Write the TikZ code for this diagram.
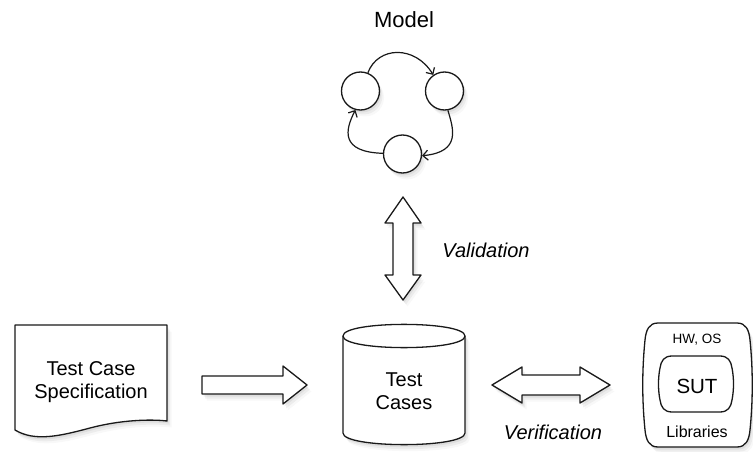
\documentclass[tikz,border=0pt]{standalone}
\usepackage{fontspec}
\setmainfont{Liberation Sans}
\usetikzlibrary{arrows.meta,shadows}
\begin{document}
\begin{tikzpicture}[x=1pt,y=-1pt,
  shp/.style={draw=black!90, line width=1.3pt, fill=white, line join=round},
  shad/.style={drop shadow={opacity=.12,shadow xshift=1.5pt,shadow yshift=-2.5pt},
               drop shadow={opacity=.10,shadow xshift=3pt,shadow yshift=-4.5pt},
               drop shadow={opacity=.06,shadow xshift=4.5pt,shadow yshift=-6.5pt}},
  circ/.style={shp, shad, circle, minimum size=38pt, inner sep=0pt},
  marr/.style={draw=black!90, line width=1.2pt, -{Straight Barb[length=5pt,width=10pt]}},
  lbl/.style={font=\fontsize{20}{23}\selectfont, align=center, inner sep=0pt},
  ilbl/.style={font=\itshape\fontsize{20}{23}\selectfont, inner sep=0pt}]
\useasboundingbox (0,0) rectangle (753,452);

% Model
\node[font=\fontsize{22}{25}\selectfont, inner sep=0pt] (model) at (404,20) {Model};
\node[circ] (m1) at (360.5,91) {};
\node[circ] (m2) at (444.5,91) {};
\node[circ] (m3) at (402.5,154) {};
\draw[marr] (m1.68) .. controls (378,46) and (415,45) .. (m2.125);
\draw[marr] (m2.-80) .. controls (453,128) and (462,152) .. (m3.-5);
\draw[marr] (m3.178) .. controls (340,152) and (345,130) .. (m1.-105);

% Validation double arrow
\draw[shp, shad] (403,197) -- (421,223) -- (413,223) -- (413,275) -- (421,275) -- (403,300)
  -- (385,275) -- (393,275) -- (393,223) -- (385,223) -- cycle;
\node[ilbl] (val) at (486,250) {Validation};

% Test case specification (document)
\draw[shp, shad] (15,325) -- (167,325) -- (167,421)
  .. controls (150,419) and (120,420) .. (90,428)
  .. controls (60,436) and (35,442) .. (15,430) -- cycle;
\node[lbl] (tcs) at (91,382) {Test Case\\Specification};

% arrow spec -> test cases
\draw[shp, shad] (202,376) -- (283,376) -- (283,366) -- (307,385) -- (283,404) -- (283,394)
  -- (202,394) -- cycle;

% Test cases cylinder
\draw[shp, shad] (343,336) -- (343,433) .. controls (343,448.5) and (465,448.5) .. (465,433)
  -- (465,336) .. controls (465,320.5) and (343,320.5) .. (343,336) -- cycle;
\draw[draw=black!90, line width=1.3pt] (343,336) .. controls (343,351.5) and (465,351.5) .. (465,336);
\node[lbl] (tc) at (404,391) {Test\\Cases};

% Verification double arrow
\draw[shp, shad] (492,385) -- (522,367) -- (522,375) -- (580,375) -- (580,367) -- (610,385)
  -- (580,403) -- (580,395) -- (522,395) -- (522,403) -- cycle;
\node[ilbl] (ver) at (553,432) {Verification};

% SUT box
\draw[shp, shad] (658,323) -- (737,323) .. controls (746,323) and (749,330) .. (750,340)
  .. controls (753,370) and (753,400) .. (750,430) .. controls (749,440) and (746,447) .. (737,447)
  -- (658,447) .. controls (649,447) and (646,440) .. (645,430)
  .. controls (642,400) and (642,370) .. (645,340) .. controls (646,330) and (649,323) .. (658,323) -- cycle;
\draw[shp] (672,356) -- (720,356) .. controls (728,356) and (731,361) .. (732,368)
  .. controls (734,378) and (734,390) .. (732,400) .. controls (731,407) and (728,412) .. (720,412)
  -- (672,412) .. controls (664,412) and (661,407) .. (660,400)
  .. controls (658,390) and (658,378) .. (660,368) .. controls (661,361) and (664,356) .. (672,356) -- cycle;
\node[font=\fontsize{13.5}{16}\selectfont, inner sep=0pt] (hw) at (697,340) {HW, OS};
\node[font=\fontsize{20.5}{23}\selectfont, inner sep=0pt] (sut) at (697,386) {SUT};
\node[font=\fontsize{16}{19}\selectfont, inner sep=0pt] (lib) at (697,432) {Libraries};
\end{tikzpicture}
\end{document}
